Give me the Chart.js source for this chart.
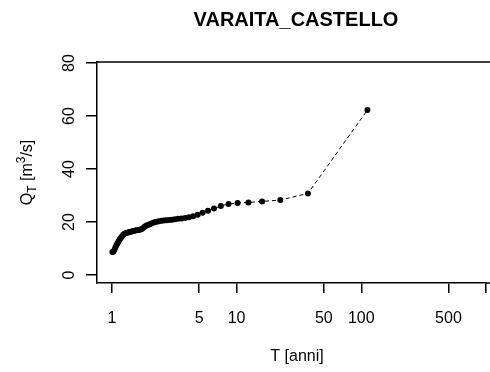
<!DOCTYPE html>
<html>
<head>
<meta charset="utf-8">
<script src="https://cdn.jsdelivr.net/npm/chart.js@4/dist/chart.umd.min.js"></script>
<style>
  body { margin: 0; background: #fff; }
  canvas { display: block; }
</style>
</head>
<body>
<canvas id="qtChart" width="490" height="372"></canvas>
<script>
// Tempo di ritorno T [anni] e portata Q_T [m3/s]
const periods = [1.009, 1.028, 1.047, 1.067, 1.087, 1.109, 1.131, 1.155, 1.179, 1.204,
  1.231, 1.258, 1.287, 1.318, 1.349, 1.383, 1.418, 1.455, 1.493, 1.534,
  1.577, 1.623, 1.672, 1.723, 1.778, 1.836, 1.898, 1.965, 2.036, 2.113,
  2.196, 2.286, 2.383, 2.489, 2.605, 2.732, 2.872, 3.027, 3.2, 3.394,
  3.613, 3.862, 4.148, 4.48, 4.87, 5.333, 5.895, 6.588, 7.467, 8.615,
  10.18, 12.44, 16, 22.4, 37.33, 112];
const discharge = [8.7, 8.9, 9.5, 10.5, 11.3, 12.0, 12.8, 13.5, 14.0, 14.6,
  15.2, 15.6, 15.8, 16.0, 16.1, 16.2, 16.3, 16.5, 16.6, 16.8,
  16.9, 17.0, 17.1, 17.3, 17.8, 18.3, 18.7, 19.0, 19.3, 19.6,
  19.9, 20.1, 20.3, 20.5, 20.6, 20.7, 20.8, 20.9, 21.1, 21.2,
  21.3, 21.5, 21.8, 22.2, 22.8, 23.5, 24.3, 25.1, 26.1, 26.8,
  27.2, 27.4, 27.8, 28.3, 30.8, 62.3];

const xTicks = [1, 5, 10, 50, 100, 500, 1000];
const xTickLabels = ['1', '5', '10', '50', '100', '500', ''];
const yTicks = [0, 20, 40, 60, 80];
const yTickLabels = ['0', '20', '40', '60', '80'];

const FONT = '"Liberation Sans", Arial, sans-serif';

// testi in stile R: titolo, etichette asse y ruotate, titoli degli assi
const rLabels = {
  id: 'rLabels',
  afterDraw(chart) {
    const ctx = chart.ctx;
    const a = chart.chartArea;
    const ys = chart.scales.y;
    ctx.save();
    ctx.strokeStyle = '#000';
    ctx.lineWidth = 1.5;
    ctx.beginPath();
    ctx.moveTo(a.left, a.top);
    ctx.lineTo(490, a.top);
    ctx.moveTo(a.right, a.bottom);
    ctx.lineTo(490, a.bottom);
    ctx.stroke();

    ctx.fillStyle = '#000';
    ctx.textAlign = 'center';
    ctx.textBaseline = 'middle';

    // etichette asse y
    ctx.font = '16px ' + FONT;
    yTicks.forEach((v, i) => {
      const py = ys.getPixelForValue(v);
      ctx.save();
      ctx.translate(70, py);
      ctx.rotate(-Math.PI / 2);
      ctx.fillText(yTickLabels[i], 0, 0);
      ctx.restore();
    });

    // titolo asse y: Q_T [m^3/s]
    const parts = [
      { t: 'Q', size: 16, dy: 0 },
      { t: 'T', size: 12, dy: 4 },
      { t: ' [m', size: 16, dy: 0 },
      { t: '3', size: 12, dy: -7 },
      { t: '/s]', size: 16, dy: 0 }
    ];
    let total = 0;
    parts.forEach(p => { ctx.font = p.size + 'px ' + FONT; p.w = ctx.measureText(p.t).width; total += p.w; });
    ctx.save();
    ctx.translate(27, (a.top + a.bottom) / 2);
    ctx.rotate(-Math.PI / 2);
    ctx.textAlign = 'left';
    ctx.textBaseline = 'alphabetic';
    let px = -total / 2;
    parts.forEach(p => {
      ctx.font = p.size + 'px ' + FONT;
      ctx.fillText(p.t, px, 5 + p.dy);
      px += p.w;
    });
    ctx.restore();

    // titolo
    ctx.font = 'bold 20px ' + FONT;
    ctx.fillText('VARAITA_CASTELLO', 296, 20);

    // titolo asse x
    ctx.font = '16px ' + FONT;
    ctx.fillText('T [anni]', 297, 357);
    ctx.restore();
  }
};

const ctx = document.getElementById('qtChart').getContext('2d');
new Chart(ctx, {
  type: 'scatter',
  data: {
    datasets: [{
      data: periods.map((t, i) => ({ x: t, y: discharge[i] })),
      showLine: true,
      borderColor: '#000',
      borderWidth: 1,
      borderDash: [4, 3],
      pointRadius: 3,
      pointBackgroundColor: '#000',
      pointBorderColor: '#000',
      pointBorderWidth: 0
    }]
  },
  options: {
    responsive: false,
    animation: false,
    devicePixelRatio: 1,
    layout: { padding: { top: 62, left: 0, right: 0, bottom: 0 } },
    plugins: {
      legend: { display: false },
      tooltip: { enabled: false }
    },
    scales: {
      x: {
        type: 'logarithmic',
        min: 0.759,
        max: 1000,
        afterBuildTicks: s => { s.ticks = xTicks.map(v => ({ value: v })); },
        afterFit: s => { s.height = 89; s.paddingLeft = 0; s.paddingRight = 0; },
        ticks: {
          callback: (v, i) => xTickLabels[i],
          font: { size: 16, family: FONT },
          color: '#000',
          padding: 16,
          maxRotation: 0,
          autoSkip: false
        },
        grid: { drawOnChartArea: false, tickLength: 10, color: '#000', lineWidth: 1.5 },
        border: { color: '#000', width: 1.5 }
      },
      y: {
        min: -3,
        max: 80.4,
        afterBuildTicks: s => { s.ticks = yTicks.map(v => ({ value: v })); },
        afterFit: s => { s.width = 97; },
        ticks: { display: false },
        grid: { drawOnChartArea: false, tickLength: 11, color: '#000', lineWidth: 1.5 },
        border: { color: '#000', width: 1.5 }
      }
    }
  },
  plugins: [rLabels]
});
</script>
</body>
</html>
